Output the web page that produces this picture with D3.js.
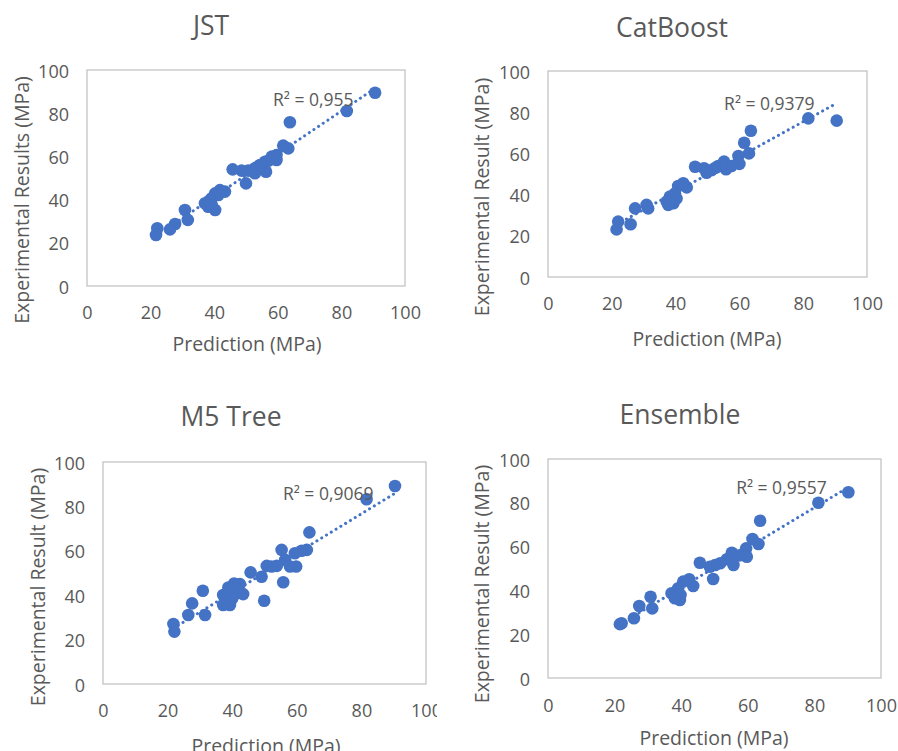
<!DOCTYPE html>
<html>
<head>
<meta charset="utf-8">
<script src="https://cdn.jsdelivr.net/npm/d3@7"></script>
<style>
  body { margin: 0; background: #fff; }
  svg { display: block; font-family: "Open Sans", "Noto Sans", sans-serif; }
  .tick-label { fill: #595959; font-size: 18px; }
  .axis-title { fill: #595959; font-size: 19.5px; }
  .chart-title { fill: #595959; font-size: 26.5px; }
  .r2 { fill: #595959; font-size: 17.5px; }
</style>
</head>
<body>
<svg id="chart" width="898" height="751"></svg>
<script>
// ---- data ----
const titles = ['JST', 'CatBoost', 'M5 Tree', 'Ensemble'];
const yTitles = ['Experimental Results (MPa)', 'Experimental Result (MPa)', 'Experimental Result (MPa)', 'Experimental Result (MPa)'];
const xTitle = 'Prediction (MPa)';
const r2Labels = ['R² = 0,955', 'R² = 0,9379', 'R² = 0,9069', 'R² = 0,9557'];
const tickValues = [0, 20, 40, 60, 80, 100];

const jstPred = [90.6, 81.7, 63.8, 61.7, 63.3, 59.6, 59.6, 58.1, 56.0, 56.3, 54.4, 52.8, 52.8, 50.7, 48.6, 45.8, 50.0, 43.4, 41.8, 40.3, 39.2, 37.1, 38.1, 40.3, 39.2, 41.3, 30.8, 31.7, 27.7, 26.1, 22.1, 21.7, 57.0, 53.5, 38.5];
const jstExp  = [89.5, 81.0, 75.8, 65.0, 63.7, 60.6, 58.3, 59.9, 57.5, 52.9, 56.0, 54.5, 52.2, 53.4, 53.4, 54.0, 47.5, 43.7, 44.4, 42.9, 40.6, 38.3, 36.7, 35.2, 37.5, 42.1, 35.2, 30.6, 28.7, 26.2, 26.7, 23.6, 58.0, 55.0, 39.5];

const catPred = [90.5, 81.6, 63.6, 61.5, 63.0, 59.7, 60.0, 57.5, 55.2, 55.8, 53.4, 51.3, 49.7, 48.9, 46.1, 43.5, 42.4, 40.8, 39.8, 38.2, 37.2, 39.3, 37.7, 40.3, 31.4, 30.9, 27.3, 25.9, 22.0, 21.5, 54.5, 52.5, 38.8];
const catExp  = [75.9, 77.0, 71.0, 65.2, 60.0, 58.7, 54.9, 53.9, 56.0, 52.3, 53.9, 51.9, 50.6, 52.8, 53.5, 43.5, 45.5, 44.2, 40.6, 39.0, 36.6, 35.8, 35.0, 38.1, 33.3, 35.0, 33.3, 25.6, 26.9, 23.1, 54.5, 53.0, 37.5];

const m5Pred = [90.4, 81.6, 63.9, 63.1, 61.5, 59.4, 55.3, 56.4, 59.8, 57.9, 53.8, 52.2, 50.7, 55.8, 49.1, 45.7, 49.9, 43.4, 42.4, 40.6, 39.3, 37.2, 38.3, 39.3, 37.2, 41.4, 30.9, 27.6, 31.6, 26.4, 21.8, 22.1, 40.0, 38.8];
const m5Exp  = [89.2, 83.2, 68.3, 60.4, 60.0, 58.9, 60.4, 55.9, 52.9, 52.9, 53.2, 52.9, 53.2, 45.8, 48.3, 50.3, 37.5, 40.5, 45.0, 45.3, 42.3, 40.1, 37.1, 35.6, 35.6, 40.9, 42.0, 36.3, 31.1, 31.1, 27.0, 23.6, 38.5, 43.5];

const ensPred = [90.2, 81.2, 63.7, 61.4, 63.2, 59.5, 59.7, 55.2, 55.7, 53.7, 51.7, 50.2, 48.6, 45.6, 49.6, 43.6, 42.4, 40.6, 39.1, 37.1, 38.1, 39.6, 39.8, 30.8, 31.3, 27.4, 25.8, 22.1, 21.6, 57.5, 55.0, 38.8];
const ensExp  = [84.8, 80.0, 71.8, 63.5, 61.2, 59.2, 55.4, 57.2, 51.6, 54.2, 52.4, 51.6, 50.8, 52.6, 45.2, 42.0, 45.1, 44.0, 41.0, 38.7, 36.4, 35.6, 37.9, 37.1, 31.8, 32.9, 27.3, 25.0, 24.6, 56.0, 54.0, 39.5];

const predSeries = [jstPred, catPred, m5Pred, ensPred];
const expSeries = [jstExp, catExp, m5Exp, ensExp];

// ---- layout of the four panels ----
const panels = [
  { box: [87, 405, 70, 286], title: [211, 25], yT: [21, 200], xT: [247, 343], xTickY: 312, r2: [58.5, 83.3], clip: null },
  { box: [548, 867, 71, 277], title: [672, 27], yT: [481, 197], xT: [707, 338], xTickY: 303, r2: [55.2, 81.0], clip: null },
  { box: [103, 426, 462, 684], title: [231, 416], yT: [37, 587], xT: [266, 745], xTickY: 710, r2: [55.7, 82.9], clip: 437 },
  { box: [548, 881, 459, 678], title: [680, 414], yT: [481, 584], xT: [714, 737], xTickY: 705, r2: [56.5, 84.0], clip: null }
];

const blue = '#4472C4';
const svg = d3.select('#chart');

function linearFit(xs, ys) {
  const n = xs.length;
  const mx = d3.mean(xs), my = d3.mean(ys);
  let sxy = 0, sxx = 0;
  for (let i = 0; i < n; i++) {
    sxy += (xs[i] - mx) * (ys[i] - my);
    sxx += (xs[i] - mx) * (xs[i] - mx);
  }
  const b = sxy / sxx;
  return { a: my - b * mx, b: b };
}

panels.forEach((p, i) => {
  const [left, right, top, bottom] = p.box;
  let g = svg.append('g');

  if (p.clip) {
    svg.append('clipPath').attr('id', 'clip' + i)
      .append('rect').attr('x', 0).attr('y', 0).attr('width', p.clip).attr('height', 751);
    g.attr('clip-path', 'url(#clip' + i + ')');
  }

  const x = d3.scaleLinear().domain([0, 100]).range([left, right]);
  const y = d3.scaleLinear().domain([0, 100]).range([bottom, top]);

  g.append('text').attr('class', 'chart-title')
    .attr('x', p.title[0]).attr('y', p.title[1])
    .attr('text-anchor', 'middle').attr('dominant-baseline', 'central')
    .text(titles[i]);

  // plot area border
  g.append('rect')
    .attr('x', left).attr('y', top)
    .attr('width', right - left).attr('height', bottom - top)
    .attr('fill', 'none').attr('stroke', '#bfbfbf').attr('stroke-width', 1.2);

  // axes: only labels, no tick lines
  const xAxis = g.append('g').attr('transform', `translate(0,${p.xTickY})`)
    .call(d3.axisBottom(x).tickValues(tickValues).tickSize(0).tickPadding(0));
  xAxis.select('.domain').remove();
  xAxis.selectAll('text').attr('class', 'tick-label').attr('fill', null)
    .attr('dy', null).attr('y', 0).attr('dominant-baseline', 'central');

  const yAxis = g.append('g').attr('transform', `translate(${left - 18},0)`)
    .call(d3.axisLeft(y).tickValues(tickValues).tickSize(0).tickPadding(0));
  yAxis.select('.domain').remove();
  yAxis.selectAll('text').attr('class', 'tick-label').attr('fill', null)
    .attr('dy', null).attr('dominant-baseline', 'central');
  xAxis.attr('font-size', null).attr('font-family', null);
  yAxis.attr('font-size', null).attr('font-family', null);

  g.append('text').attr('class', 'axis-title')
    .attr('transform', `translate(${p.yT[0]},${p.yT[1]}) rotate(-90)`)
    .attr('text-anchor', 'middle').attr('dominant-baseline', 'central')
    .text(yTitles[i]);

  g.append('text').attr('class', 'axis-title')
    .attr('x', p.xT[0]).attr('y', p.xT[1])
    .attr('text-anchor', 'middle').attr('dominant-baseline', 'central')
    .text(xTitle);

  // trendline (least squares over the points)
  const xs = predSeries[i], ys = expSeries[i];
  const fit = linearFit(xs, ys);
  const ext = d3.extent(xs);
  g.append('line')
    .attr('x1', x(ext[0])).attr('y1', y(fit.a + fit.b * ext[0]))
    .attr('x2', x(ext[1])).attr('y2', y(fit.a + fit.b * ext[1]))
    .attr('stroke', blue).attr('stroke-width', 3)
    .attr('stroke-linecap', 'round').attr('stroke-dasharray', '0.1,5.5');

  g.selectAll('circle.pt').data(xs.map((v, k) => [v, ys[k]]))
    .enter().append('circle').attr('class', 'pt')
    .attr('cx', d => x(d[0])).attr('cy', d => y(d[1]))
    .attr('r', 6.3).attr('fill', blue);

  g.append('text').attr('class', 'r2')
    .attr('x', x(p.r2[0])).attr('y', y(p.r2[1]))
    .text(r2Labels[i]);
});
</script>
</body>
</html>
